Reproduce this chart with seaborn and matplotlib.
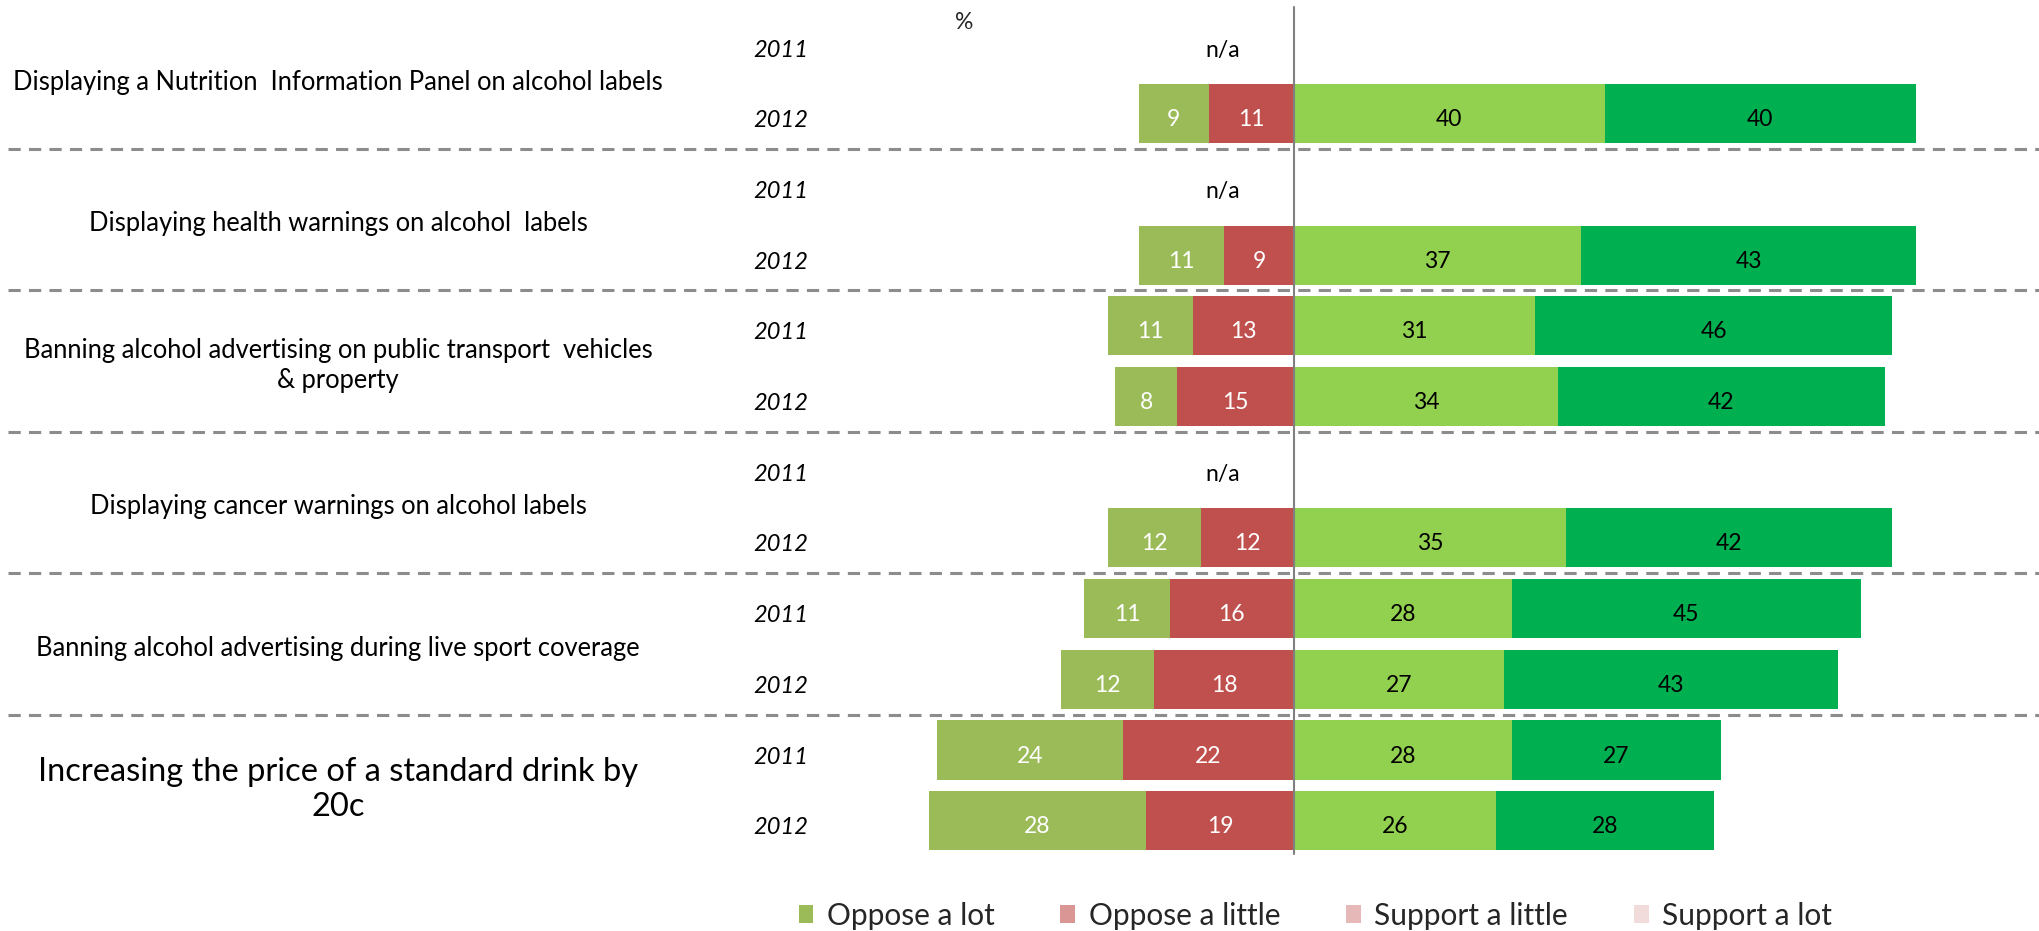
import numpy as np
import pandas as pd
import matplotlib
matplotlib.use("Agg")
import matplotlib.pyplot as plt
from matplotlib.patches import Patch
import seaborn as sns

# ---------------- data ----------------
categories = [
    "Displaying a Nutrition  Information Panel on alcohol labels",
    "Displaying health warnings on alcohol  labels",
    "Banning alcohol advertising on public transport  vehicles\n& property",
    "Displaying cancer warnings on alcohol labels",
    "Banning alcohol advertising during live sport coverage",
    "Increasing the price of a standard drink by\n20c",
]
years = ["2011", "2012"]
series = ["Oppose a lot", "Oppose a little", "Support a little", "Support a lot"]

# values per (category, year); None = n/a
oppose_lot     = [None, 9,  None, 11, 11, 8,  None, 12, 11, 12, 24, 28]
oppose_little  = [None, 11, None, 9,  13, 15, None, 12, 16, 18, 22, 19]
support_little = [None, 40, None, 37, 31, 34, None, 35, 28, 27, 28, 26]
support_lot    = [None, 40, None, 43, 46, 42, None, 42, 45, 43, 27, 28]

bar_colors = ["#9BBB59", "#C0504D", "#92D050", "#00B050"]
legend_colors = ["#9BBB59", "#D99694", "#E6B9B8", "#F2DCDB"]

# ---------------- layout helpers ----------------
W, H = 2040, 931
ZERO_PX, PX_PER_UNIT = 1294, 7.77
ROW0_PX, ROW_STEP = 43, 70.7


def px2x(px):
    return (px - ZERO_PX) / PX_PER_UNIT


def px2y(py):
    return (py - ROW0_PX) / ROW_STEP


row_ids = [f"{c}|{y}" for c in range(len(categories)) for y in years]
df = pd.DataFrame({
    "row": row_ids,
    "olot": oppose_lot,
    "olit": oppose_little,
    "slit": support_little,
    "slot": support_lot,
})
avail = df.dropna().copy()
avail["opp_total"] = -(avail["olot"] + avail["olit"])
avail["opp_little"] = -avail["olit"]
avail["sup_total"] = avail["slit"] + avail["slot"]
avail["sup_little"] = avail["slit"]

sns.set_theme(style="white")
plt.rcParams["font.family"] = ["Lato", "DejaVu Sans"]

fig = plt.figure(figsize=(W / 100, H / 100), dpi=100)
ax = fig.add_axes([0, 0, 1, 1])

BW = 0.835
common = dict(data=avail, y="row", order=row_ids, orient="h", ax=ax,
              width=BW, saturation=1, errorbar=None, linewidth=0)
sns.barplot(x="sup_total", color=bar_colors[3], **common)
sns.barplot(x="sup_little", color=bar_colors[2], **common)
sns.barplot(x="opp_total", color=bar_colors[0], **common)
sns.barplot(x="opp_little", color=bar_colors[1], **common)

ax.set_xlim(px2x(0), px2x(W))
ax.set_ylim(px2y(H), px2y(0))
ax.set_axis_off()

FS = 16.5
NUM_DY = 0.085
YEAR_DY = 0.1
# segment labels
for i, rid in enumerate(row_ids):
    r = df.iloc[i]
    if pd.isna(r["olot"]):
        ax.text(px2x(1223), i + YEAR_DY, "n/a", ha="center", va="center",
                fontsize=FS, color="black")
        continue
    segs = [(-(r["olot"] + r["olit"]), r["olot"], "white"),
            (-r["olit"], r["olit"], "white"),
            (0, r["slit"], "black"),
            (r["slit"], r["slot"], "black")]
    for left, w, col in segs:
        ax.text(left + w / 2, i + NUM_DY, f"{int(w)}", ha="center", va="center",
                fontsize=FS, color=col)

# year labels
for i, rid in enumerate(row_ids):
    ax.text(px2x(781), i + YEAR_DY, rid.split("|")[1], ha="center", va="center",
            fontsize=17, style="italic", color="black")

# category labels
for c, lab in enumerate(categories):
    if c == len(categories) - 1:
        fs, ls = 23.5, 1.2
    else:
        fs, ls = 18.4, 1.25
    ax.text(px2x(338), 2 * c + 0.5 + 0.06, lab, ha="center", va="center",
            fontsize=fs, color="black", linespacing=ls)

# separators
for k in range(1, len(categories)):
    ax.axhline(2 * k - 0.5, xmin=0.004, xmax=1, color="#8C8C8C", lw=2.2,
               linestyle=(0, (4, 2.7)), zorder=1)

# zero line
ax.plot([0, 0], [px2y(7), px2y(854)], color="#808080", lw=1.5, zorder=5)

# percent sign
ax.text(px2x(964), px2y(22), "%", ha="center", va="center", fontsize=FS)

handles = [Patch(facecolor=c, edgecolor="none", label=s) for c, s in zip(legend_colors, series)]
fig.legend(handles=handles, loc="center", bbox_to_anchor=(0.6447, 1 - 916 / H),
           ncol=4, frameon=False, fontsize=21.5, handlelength=0.5, handleheight=0.55,
           handletextpad=0.45, columnspacing=2.2)

fig.savefig("out.png", dpi=100)
